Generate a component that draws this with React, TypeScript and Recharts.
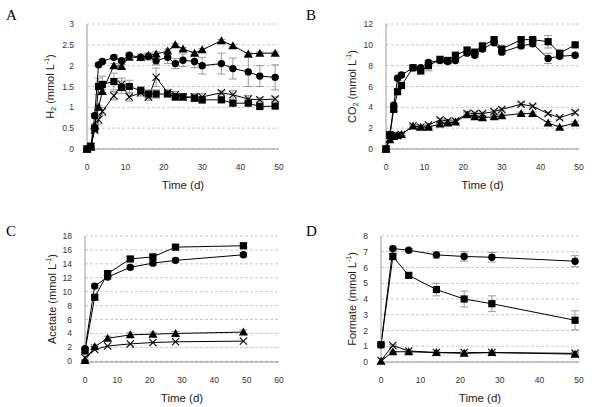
import React from 'react';
import { LineChart, Line, XAxis, YAxis, CartesianGrid, ErrorBar, Label } from 'recharts';

// panel A / B sampling days
const abDays = [0, 1, 2, 3, 4, 7, 9, 11, 14, 16, 18, 21, 23, 25, 28, 30, 35, 38, 42, 45, 49];

const h2Circle = [0, 0.05, 0.8, 2.02, 2.1, 2.2, 2.12, 2.25, 2.2, 2.22, 2.12, 2.2, 2.05, 2.13, 2.1, 2.0, 2.05, 1.93, 1.85, 1.75, 1.72];
const h2CircleErr = [0, 0, 0.05, 0.05, 0.05, 0.05, 0.05, 0.05, 0.08, 0.08, 0.1, 0.15, 0.12, 0.15, 0.15, 0.2, 0.25, 0.25, 0.35, 0.25, 0.3];
const h2Square = [0, 0.07, 0.5, 1.5, 1.55, 1.62, 1.48, 1.5, 1.4, 1.32, 1.32, 1.32, 1.25, 1.25, 1.22, 1.18, 1.18, 1.1, 1.1, 1.02, 1.03];
const h2SquareErr = [0, 0, 0.1, 0.2, 0.2, 0.2, 0.15, 0.15, 0.1, 0.1, 0.1, 0.06, 0.08, 0.08, 0.08, 0.08, 0.06, 0.06, 0.06, 0.05, 0.05];
const h2Triangle = [0, 0.05, 0.55, 1.0, 1.38, 2.0, 1.98, 2.2, 2.2, 2.25, 2.28, 2.35, 2.5, 2.4, 2.3, 2.38, 2.6, 2.48, 2.28, 2.3, 2.3];
const h2TriangleErr = [0, 0, 0.05, 0.05, 0.05, 0.05, 0.05, 0.05, 0.05, 0.05, 0.05, 0.05, 0.03, 0.03, 0.03, 0.03, 0.03, 0.03, 0.03, 0.03, 0.03];
const h2Cross = [0, 0.05, 0.45, 0.7, 0.9, 1.28, 1.55, 1.25, 1.35, 1.25, 1.72, 1.35, 1.3, 1.25, 1.25, 1.25, 1.35, 1.3, 1.2, 1.18, 1.2];
const h2CrossErr = [0, 0, 0.05, 0.1, 0.1, 0.1, 0.15, 0.1, 0.08, 0.08, 0.22, 0.08, 0.08, 0.08, 0.08, 0.08, 0.05, 0.1, 0.08, 0.05, 0.05];

const co2Square = [0, 1.3, 3.8, 5.5, 6.1, 7.8, 7.5, 8.0, 8.6, 8.5, 9.0, 9.5, 9.3, 9.9, 10.5, 9.6, 10.5, 10.5, 10.3, 9.2, 10.0];
const co2SquareErr = [0, 0.1, 0.2, 0.2, 0.2, 0.2, 0.3, 0.5, 0.3, 0.2, 0.2, 0.2, 0.2, 0.2, 0.2, 0.2, 0.2, 0.2, 0.6, 0.2, 0.1];
const co2Circle = [0, 1.4, 4.2, 6.8, 7.1, 7.8, 7.8, 8.3, 8.5, 8.4, 8.5, 9.2, 9.0, 9.6, 10.2, 9.3, 9.9, 10.1, 8.7, 8.9, 9.0];
const co2CircleErr = [0, 0.1, 0.2, 0.2, 0.2, 0.2, 0.2, 0.2, 0.2, 0.2, 0.2, 0.2, 0.2, 0.2, 0.2, 0.2, 0.2, 0.2, 0.5, 0.2, 0.1];
const co2Cross = [0, 1.4, 1.3, 1.3, 1.4, 2.2, 2.1, 2.3, 2.8, 2.7, 2.7, 3.4, 3.4, 3.4, 3.6, 3.8, 4.3, 4.1, 3.4, 3.0, 3.5];
const co2Triangle = [0, 0.9, 1.2, 1.3, 1.4, 2.2, 2.1, 2.1, 2.4, 2.5, 2.6, 3.3, 3.1, 3.0, 3.1, 3.2, 3.4, 3.4, 2.5, 2.1, 2.5];
const co2SmallErr = [0, 0.1, 0.1, 0.1, 0.1, 0.1, 0.1, 0.1, 0.15, 0.15, 0.15, 0.15, 0.15, 0.15, 0.15, 0.15, 0.15, 0.15, 0.15, 0.15, 0.15];

// panel C / D sampling days
const cdDays = [0, 3, 7, 14, 21, 28, 49];

const acSquare = [1.5, 9.2, 12.6, 14.7, 15.0, 16.4, 16.6];
const acCircle = [1.8, 10.8, 12.1, 13.5, 14.1, 14.5, 15.3];
const acTriangle = [0.1, 2.1, 3.3, 3.8, 3.9, 4.0, 4.2];
const acCross = [0.5, 1.7, 2.2, 2.5, 2.7, 2.8, 2.9];
const acErr = [0.2, 0.3, 0.3, 0.3, 0.3, 0.3, 0.3];

const foCircle = [1.1, 7.2, 7.1, 6.8, 6.7, 6.65, 6.4];
const foCircleErr = [0.1, 0.15, 0.1, 0.2, 0.3, 0.3, 0.35];
const foSquare = [1.1, 6.7, 5.5, 4.6, 4.0, 3.7, 2.65];
const foSquareErr = [0.1, 0.2, 0.15, 0.4, 0.5, 0.5, 0.6];
const foCross = [0.1, 1.05, 0.7, 0.6, 0.6, 0.6, 0.55];
const foTriangle = [0.05, 0.65, 0.65, 0.6, 0.55, 0.6, 0.5];
const foSmallErr = [0, 0.05, 0.05, 0.05, 0.05, 0.05, 0.05];

const zeros = (n: number) => new Array(n).fill(0);

const rows = (days: number[], cols: Record<string, number[]>) =>
  days.map((d, i) => {
    const r: Record<string, number> = { t: d };
    Object.keys(cols).forEach(k => { r[k] = cols[k][i]; });
    return r;
  });

const dataA = rows(abDays, {
  sq: h2Square, sqE: h2SquareErr, ci: h2Circle, ciE: h2CircleErr,
  tr: h2Triangle, trE: h2TriangleErr, cr: h2Cross, crE: h2CrossErr,
});
const dataB = rows(abDays, {
  sq: co2Square, sqE: co2SquareErr, ci: co2Circle, ciE: co2CircleErr,
  tr: co2Triangle, trE: co2SmallErr, cr: co2Cross, crE: co2SmallErr,
});
const dataC = rows(cdDays, {
  sq: acSquare, sqE: acErr, ci: acCircle, ciE: acErr,
  tr: acTriangle, trE: acErr, cr: acCross, crE: zeros(7),
});
const dataD = rows(cdDays, {
  sq: foSquare, sqE: foSquareErr, ci: foCircle, ciE: foCircleErr,
  tr: foTriangle, trE: foSmallErr, cr: foCross, crE: foSmallErr,
});

const FONT = 'Liberation Sans, Arial, sans-serif';

const circleDot = (p: any) => {
  if (p.cx == null || p.cy == null) return <g key={p.index} />;
  return <circle key={p.index} cx={p.cx} cy={p.cy} r={3.7} fill="#000" />;
};
const squareDot = (p: any) => {
  if (p.cx == null || p.cy == null) return <g key={p.index} />;
  return <rect key={p.index} x={p.cx - 3.6} y={p.cy - 3.6} width={7.2} height={7.2} fill="#000" />;
};
const triangleDot = (p: any) => {
  if (p.cx == null || p.cy == null) return <g key={p.index} />;
  const { cx, cy } = p;
  return <polygon key={p.index} points={`${cx},${cy - 4.5} ${cx - 4.5},${cy + 3.5} ${cx + 4.5},${cy + 3.5}`} fill="#000" />;
};
const crossDot = (p: any) => {
  if (p.cx == null || p.cy == null) return <g key={p.index} />;
  const { cx, cy } = p;
  const s = 3.6;
  return (
    <g key={p.index} stroke="#000" strokeWidth={1.1}>
      <line x1={cx - s} y1={cy - s} x2={cx + s} y2={cy + s} />
      <line x1={cx - s} y1={cy + s} x2={cx + s} y2={cy - s} />
    </g>
  );
};

const YTitle = ({ viewBox, x, name, sub }: any) => {
  const cy = viewBox.y + viewBox.height / 2;
  return (
    <text
      x={x} y={cy} transform={`rotate(-90, ${x}, ${cy})`} textAnchor="middle"
      dominantBaseline="central" fontSize={11} fill="#222" fontFamily={FONT}
    >
      <tspan>{name}</tspan>
      {sub && <tspan fontSize={7} dy={3}>{sub}</tspan>}
      <tspan fontSize={11} dy={sub ? -3 : 0}> (mmol L</tspan>
      <tspan fontSize={7} dy={-4}>-1</tspan>
      <tspan fontSize={11} dy={4}>)</tspan>
    </text>
  );
};

interface PanelProps {
  letter: string;
  left: number;
  top: number;
  height: number;
  data: any[];
  yTicks: number[];
  xTicks: number[];
  yAxisWidth: number;
  marginTop: number;
  marginBottom: number;
  titleX: number;
  name: string;
  sub?: string;
}

function Panel({ letter, left, top, height, data, yTicks, xTicks, yAxisWidth, marginTop, marginBottom, titleX, name, sub }: PanelProps) {
  const tickStyle = { fontSize: 8.5, fill: '#333', fontFamily: FONT };
  return (
    <div style={{ position: 'absolute', left, top, width: 300, height }}>
      <div style={{ position: 'absolute', left: 6, top: letter === 'A' || letter === 'B' ? 7 : 23, fontFamily: 'Liberation Serif, serif', fontSize: 15, color: '#000' }}>
        {letter}
      </div>
      <LineChart width={300} height={height} data={data} margin={{ top: marginTop, right: 21, left: 0, bottom: marginBottom }}>
        <CartesianGrid horizontal vertical={false} stroke="#c8c8c8" strokeDasharray="3 2" />
        <XAxis
          dataKey="t" type="number" domain={[xTicks[0], xTicks[xTicks.length - 1]]} ticks={xTicks} interval={0}
          axisLine={{ stroke: '#9a9a9a' }} tickLine={false} tick={tickStyle} tickMargin={9} height={40}
        >
          <Label value="Time (d)" position="insideBottom" offset={0} style={{ fontSize: 11.5, fill: '#222', fontFamily: FONT }} />
        </XAxis>
        <YAxis
          type="number" domain={[yTicks[0], yTicks[yTicks.length - 1]]} ticks={yTicks} width={yAxisWidth} interval={0}
          axisLine={{ stroke: '#9a9a9a' }} tickLine={false} tick={tickStyle} tickMargin={7}
        >
          <Label content={(p: any) => <YTitle viewBox={p.viewBox} x={titleX} name={name} sub={sub} />} />
        </YAxis>
        <Line dataKey="cr" stroke="#000" strokeWidth={1} dot={crossDot} isAnimationActive={false}>
          <ErrorBar dataKey="crE" direction="y" width={4} stroke="#999" strokeWidth={1} />
        </Line>
        <Line dataKey="tr" stroke="#000" strokeWidth={1} dot={triangleDot} isAnimationActive={false}>
          <ErrorBar dataKey="trE" direction="y" width={4} stroke="#999" strokeWidth={1} />
        </Line>
        <Line dataKey="sq" stroke="#000" strokeWidth={1} dot={squareDot} isAnimationActive={false}>
          <ErrorBar dataKey="sqE" direction="y" width={4} stroke="#999" strokeWidth={1} />
        </Line>
        <Line dataKey="ci" stroke="#000" strokeWidth={1} dot={circleDot} isAnimationActive={false}>
          <ErrorBar dataKey="ciE" direction="y" width={4} stroke="#999" strokeWidth={1} />
        </Line>
      </LineChart>
    </div>
  );
}

export default function App() {
  return (
    <div style={{ position: 'absolute', left: 0, top: 0, width: 600, height: 407, background: '#fff', overflow: 'hidden' }}>
      <Panel letter="A" left={0} top={0} height={200} data={dataA}
        yTicks={[0, 0.5, 1, 1.5, 2, 2.5, 3]} xTicks={[0, 10, 20, 30, 40, 50]}
        yAxisWidth={87} marginTop={24} marginBottom={11} titleX={50} name="H" sub="2" />
      <Panel letter="B" left={300} top={0} height={200} data={dataB}
        yTicks={[0, 2, 4, 6, 8, 10, 12]} xTicks={[0, 10, 20, 30, 40, 50]}
        yAxisWidth={86} marginTop={24} marginBottom={11} titleX={52} name="CO" sub="2" />
      <Panel letter="C" left={0} top={200} height={207} data={dataC}
        yTicks={[0, 2, 4, 6, 8, 10, 12, 14, 16, 18]} xTicks={[0, 10, 20, 30, 40, 50, 60]}
        yAxisWidth={85} marginTop={36} marginBottom={5} titleX={52} name="Acetate" />
      <Panel letter="D" left={300} top={200} height={207} data={dataD}
        yTicks={[0, 1, 2, 3, 4, 5, 6, 7, 8]} xTicks={[0, 10, 20, 30, 40, 50]}
        yAxisWidth={81} marginTop={36} marginBottom={5} titleX={52} name="Formate" />
    </div>
  );
}
